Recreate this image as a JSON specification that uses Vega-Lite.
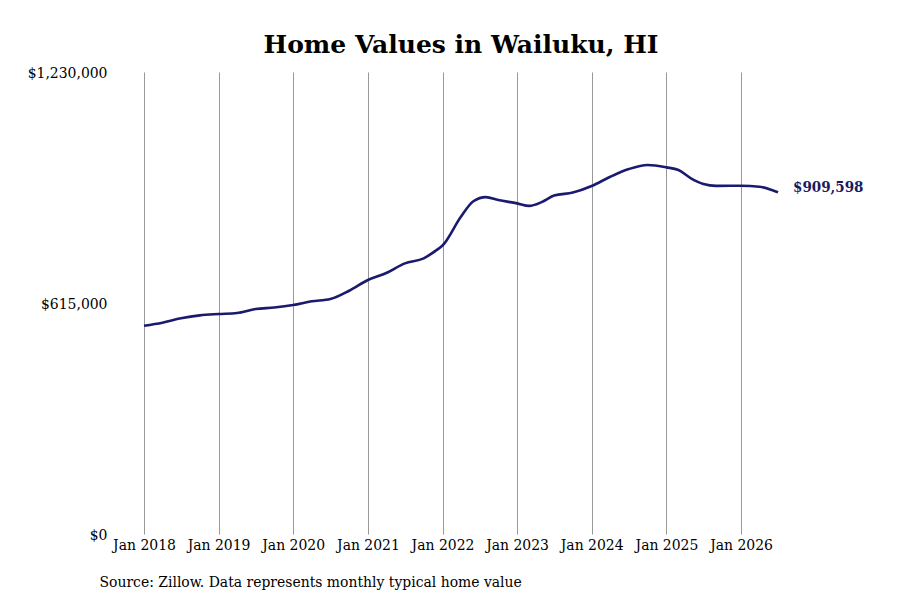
{
  "$schema": "https://vega.github.io/schema/vega-lite/v6.json",
  "width": 634,
  "height": 462,
  "autosize": "none",
  "padding": {"left": 144, "top": 72, "right": 122, "bottom": 66},
  "background": "white",
  "title": {
    "text": "Home Values in Wailuku, HI",
    "font": "DejaVu Serif",
    "fontSize": 25,
    "fontWeight": "bold",
    "color": "#000000",
    "anchor": "middle",
    "offset": 7
  },
  "config": {
    "view": {"stroke": null},
    "axis": {"labelFont": "DejaVu Serif Condensed", "titleFont": "DejaVu Serif Condensed"}
  },
  "data": {
    "values": [
      {"date": "2018-01-01", "value": 554500},
      {"date": "2018-04-01", "value": 562500},
      {"date": "2018-07-01", "value": 574200},
      {"date": "2018-10-01", "value": 582000},
      {"date": "2019-01-01", "value": 585600},
      {"date": "2019-04-01", "value": 588300},
      {"date": "2019-07-01", "value": 599000},
      {"date": "2019-10-01", "value": 603000},
      {"date": "2020-01-01", "value": 609600},
      {"date": "2020-04-01", "value": 619500},
      {"date": "2020-07-01", "value": 625600},
      {"date": "2020-10-01", "value": 647700},
      {"date": "2021-01-01", "value": 676200},
      {"date": "2021-04-01", "value": 695000},
      {"date": "2021-07-01", "value": 720600},
      {"date": "2021-10-01", "value": 734000},
      {"date": "2021-12-01", "value": 755000},
      {"date": "2022-01-01", "value": 768000},
      {"date": "2022-04-01", "value": 844700},
      {"date": "2022-06-01", "value": 886000},
      {"date": "2022-08-01", "value": 897000},
      {"date": "2022-10-01", "value": 889000},
      {"date": "2023-01-01", "value": 880300},
      {"date": "2023-03-01", "value": 873500},
      {"date": "2023-05-01", "value": 883500},
      {"date": "2023-07-01", "value": 901000},
      {"date": "2023-10-01", "value": 909000},
      {"date": "2024-01-01", "value": 926400},
      {"date": "2024-04-01", "value": 951000},
      {"date": "2024-07-01", "value": 971600},
      {"date": "2024-10-01", "value": 982300},
      {"date": "2025-01-01", "value": 976100},
      {"date": "2025-03-01", "value": 969000},
      {"date": "2025-05-01", "value": 946800},
      {"date": "2025-07-01", "value": 931700},
      {"date": "2025-09-01", "value": 926800},
      {"date": "2026-01-01", "value": 927300},
      {"date": "2026-04-01", "value": 924500},
      {"date": "2026-06-01", "value": 915700},
      {"date": "2026-07-01", "value": 909598}
    ]
  },
  "encoding": {
    "x": {
      "field": "date",
      "type": "temporal",
      "scale": {"domain": ["2018-01-01", "2026-07-01"], "nice": false},
      "axis": {
        "format": "%b %Y",
        "tickCount": {"interval": "year", "step": 1},
        "grid": true,
        "gridColor": "#999999",
        "gridWidth": 1,
        "domain": false,
        "ticks": false,
        "labelFontSize": 15.5,
        "labelColor": "#000000",
        "labelPadding": 3,
        "labelFlush": false,
        "title": "Source: Zillow. Data represents monthly typical home value",
        "titleFontSize": 15.5,
        "titleFontWeight": "normal",
        "titleColor": "#000000",
        "titleAnchor": "start",
        "titleAlign": "left",
        "titleX": -45,
        "titleY": 47,
        "titleBaseline": "middle"
      }
    },
    "y": {
      "field": "value",
      "type": "quantitative",
      "scale": {"domain": [0, 1230000], "nice": false},
      "axis": {
        "values": [0, 615000, 1230000],
        "format": "$,.0f",
        "grid": false,
        "domain": false,
        "ticks": false,
        "labelFontSize": 15.5,
        "labelColor": "#000000",
        "labelPadding": 37,
        "title": null
      }
    }
  },
  "layer": [
    {
      "mark": {"type": "line", "color": "#1a1a6e", "strokeWidth": 2.6, "interpolate": "monotone"}
    },
    {
      "transform": [{"filter": "datum.value == 909598"}],
      "mark": {
        "type": "text",
        "align": "left",
        "baseline": "middle",
        "dx": 15,
        "dy": -5,
        "font": "DejaVu Serif Condensed",
        "fontSize": 15,
        "fontWeight": "bold",
        "color": "#1a1a5e"
      },
      "encoding": {
        "text": {"field": "value", "type": "quantitative", "format": "$,.0f"}
      }
    }
  ]
}
